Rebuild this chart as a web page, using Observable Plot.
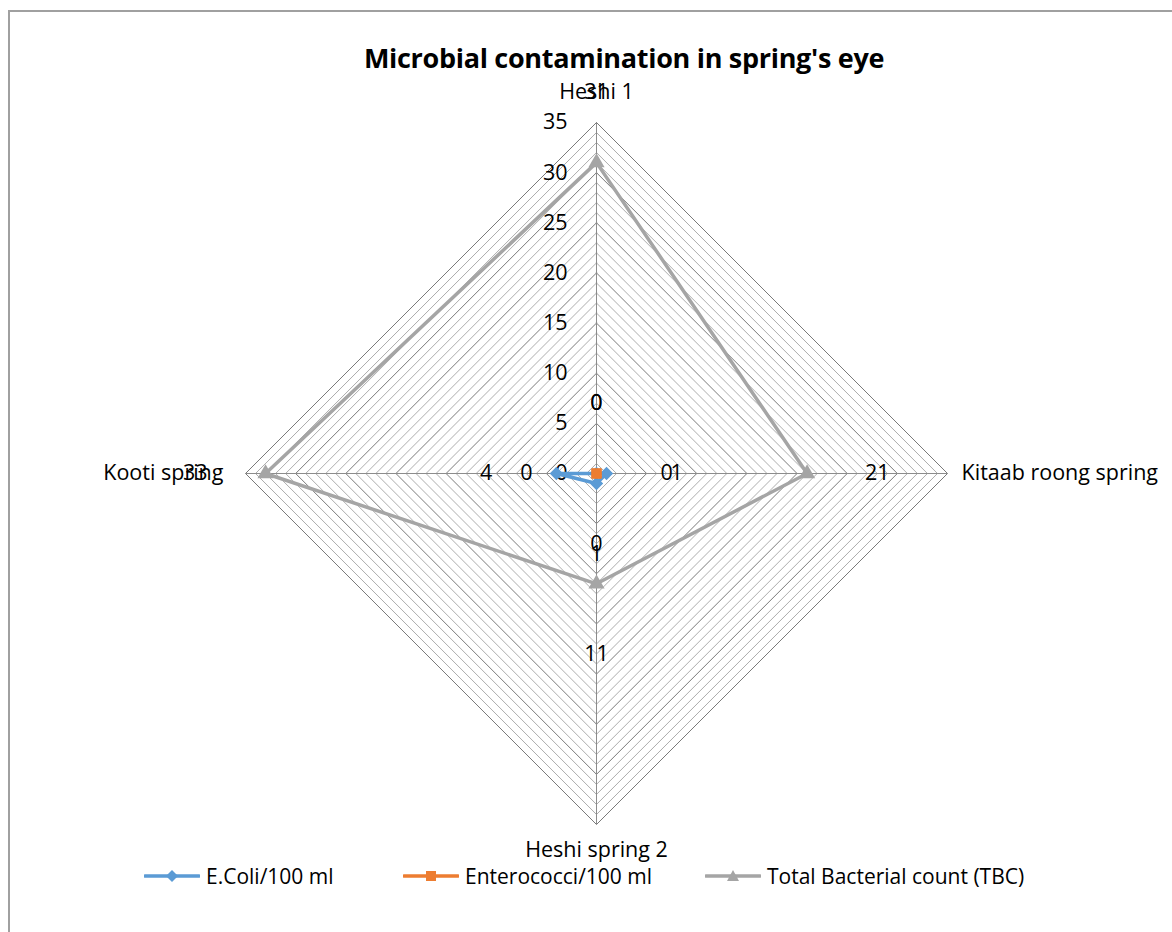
<!DOCTYPE html>
<html>
<head>
<meta charset="utf-8">
<script src="https://cdn.jsdelivr.net/npm/d3@7"></script>
<script src="https://cdn.jsdelivr.net/npm/@observablehq/plot@0.6"></script>
<style>
  html, body { margin: 0; padding: 0; background: #fff; overflow: hidden; }
  body { width: 1172px; height: 932px; position: relative; font-family: "Open Sans", sans-serif; }
  #frame { position: absolute; left: 8px; top: 10px; width: 1300px; height: 1000px;
           border-left: 2px solid #a0a0a0; border-top: 2px solid #a0a0a0; }
  #chart { position: absolute; left: 0; top: 0; }
  #title { position: absolute; left: 0; width: 1248px; top: 39px; text-align: center;
           font-weight: bold; font-size: 27px; color: #000; letter-spacing: -0.3px; }
  .leg { position: absolute; top: 862px; display: flex; align-items: center; font-size: 21px; color: #000; white-space: nowrap; }
  .leg svg { margin-right: 6px; }
</style>
</head>
<body>
<div id="frame"></div>
<div id="chart"></div>
<div id="title"></div>
<div id="legend"></div>
<script>
// ---- data ----
const categories = ["Heshi 1", "Kitaab roong spring", "Heshi spring 2", "Kooti spring"];
const ecoli = [0, 1, 1, 4];
const enterococci = [0, 0, 0, 0];
const tbc = [31, 21, 11, 33];
const seriesNames = ["E.Coli/100 ml", "Enterococci/100 ml", "Total Bacterial count (TBC)"];
const seriesColors = ["#5B9BD5", "#ED7D31", "#A5A5A5"];
const seriesSymbols = ["diamond2", "square", "triangle"];
const tickValues = [0, 5, 10, 15, 20, 25, 30, 35];
const maxValue = 35;
const titleText = "Microbial contamination in spring's eye";

// ---- geometry helpers (radar) ----
const n = categories.length;
const ang = i => i * 2 * Math.PI / n;
const px = (i, r) => r * Math.sin(ang(i));
const py = (i, r) => r * Math.cos(ang(i));

// grid rings every unit
const rings = [];
for (let r = 1; r <= maxValue; r++) {
  for (let i = 0; i <= n; i++) rings.push({ r, major: r % 5 === 0, x: px(i % n, r), y: py(i % n, r) });
}
const spokes = categories.map((c, i) => ({ x1: 0, y1: 0, x2: px(i, maxValue), y2: py(i, maxValue) }));

const allSeries = [ecoli, enterococci, tbc];
const seriesPts = [];
allSeries.forEach((vals, s) => {
  for (let i = 0; i <= n; i++) seriesPts.push({ s, i: i % n, v: vals[i % n], x: px(i % n, vals[i % n]), y: py(i % n, vals[i % n]), last: i === n });
});
const pointsOnly = seriesPts.filter(d => !d.last);
// data labels placed outward from each point
const labelOffset = 7;
const dataLabels = pointsOnly.map(d => ({ ...d, lx: px(d.i, d.v + labelOffset), ly: py(d.i, d.v + labelOffset) }));

const catLabelR = maxValue * 1.04;
const catLabels = categories.map((c, i) => ({ c, i, x: px(i, catLabelR), y: py(i, catLabelR) }));

const fs = 21.5;
const marks = [
  Plot.line(rings.filter(d => !d.major), { x: "x", y: "y", z: "r", stroke: "#adadad", strokeWidth: 1 }),
  Plot.line(rings.filter(d => d.major), { x: "x", y: "y", z: "r", stroke: "#7a7a7a", strokeWidth: 1 }),
  Plot.link(spokes, { x1: "x1", y1: "y1", x2: "x2", y2: "y2", stroke: "#8c8c8c", strokeWidth: 1 }),
  Plot.text(tickValues, { x: 0, y: d => d, text: d => String(d), textAnchor: "end", dx: -29, fontSize: fs, fill: "#000" }),
];
allSeries.forEach((vals, s) => {
  const pts = seriesPts.filter(d => d.s === s);
  marks.push(Plot.line(pts, { x: "x", y: "y", stroke: seriesColors[s], strokeWidth: 3.5, strokeLinejoin: "round" }));
  marks.push(Plot.dot(pts.filter(d => !d.last), { x: "x", y: "y", symbol: seriesSymbols[s], fill: seriesColors[s], stroke: "none", r: s === 1 ? 5.5 : 6 }));
});
marks.push(
  Plot.text(dataLabels, { x: "lx", y: "ly", text: d => String(d.v), fontSize: fs, fill: "#000", textAnchor: "middle" }),
  Plot.text(catLabels.filter(d => d.i === 0), { x: "x", y: "y", text: "c", fontSize: fs, dy: -16, textAnchor: "middle", fill: "#000" }),
  Plot.text(catLabels.filter(d => d.i === 2), { x: "x", y: "y", text: "c", fontSize: fs, dy: 12, textAnchor: "middle", fill: "#000" }),
  Plot.text(catLabels.filter(d => d.i === 1), { x: "x", y: "y", text: "c", fontSize: fs, textAnchor: "start", fill: "#000" }),
  Plot.text(catLabels.filter(d => d.i === 3), { x: "x", y: "y", text: "c", fontSize: fs, dx: -8, textAnchor: "end", fill: "#000" })
);

const plot = Plot.plot({
  width: 1172,
  height: 932,
  margin: 0,
  x: { type: "linear", domain: [-maxValue, maxValue], range: [245, 947], axis: null },
  y: { type: "linear", domain: [-maxValue, maxValue], range: [824, 122], axis: null },
  style: { background: "transparent", fontFamily: "'Open Sans', sans-serif", overflow: "visible" },
  marks
});
document.getElementById("chart").appendChild(plot);
document.getElementById("title").textContent = titleText;

// ---- legend ----
const legendLefts = [144, 403, 705];
const legend = document.getElementById("legend");
const symPaths = {
  diamond2: "M28,1 L34,7 L28,13 L22,7 Z",
  square: "M23,2 L33,2 L33,12 L23,12 Z",
  triangle: "M28,1 L34,12 L22,12 Z"
};
seriesNames.forEach((name, s) => {
  const item = document.createElement("div");
  item.className = "leg";
  item.style.left = legendLefts[s] + "px";
  item.innerHTML = `<svg width="56" height="14"><line x1="1" y1="7" x2="55" y2="7" stroke="${seriesColors[s]}" stroke-width="3.5" stroke-linecap="round"/><path d="${symPaths[seriesSymbols[s]]}" fill="${seriesColors[s]}"/></svg><span></span>`;
  item.querySelector("span").textContent = name;
  legend.appendChild(item);
});
</script>
</body>
</html>
